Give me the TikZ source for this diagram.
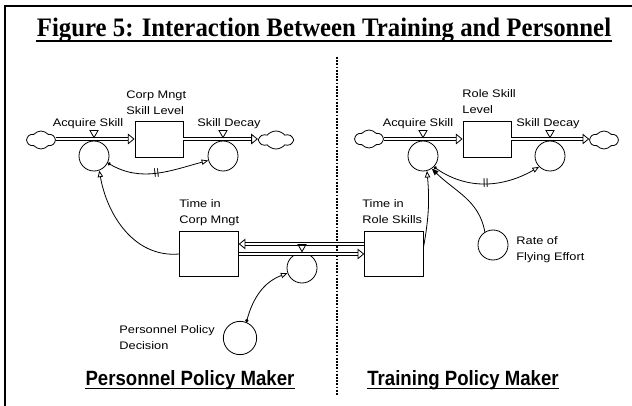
\documentclass[tikz,border=0pt]{standalone}
\usepackage{fontspec}
\setmainfont{Liberation Serif}
\setsansfont{Liberation Sans}
\newfontfamily\sdlab[FakeStretch=1.17]{Liberation Sans}
\newfontfamily\sdtitle[FakeStretch=0.93]{Liberation Serif}
\newfontfamily\sdside[FakeStretch=0.9]{Liberation Sans}
\usetikzlibrary{arrows.meta,shapes.symbols}
\newcommand{\valve}[2][3]{\draw ([shift={(0,-#1)}]#2.north) -- ([shift={(-4,-#1-7)}]#2.north) -- ([shift={(4,-#1-7)}]#2.north) -- cycle;}

\begin{document}
\begin{tikzpicture}[x=0.75pt,y=-0.75pt,line width=0.6pt,
    stock/.style={draw, minimum width=36pt, minimum height=27pt, inner sep=0pt},
    level/.style={draw, minimum width=44pt, minimum height=34pt, inner sep=0pt},
    conv/.style={draw, circle, minimum size=22.5pt, inner sep=0pt},
    sky/.style={draw, cloud, cloud puffs=6, cloud puff arc=100, aspect=1.6, minimum width=21pt, minimum height=13.5pt, inner sep=0pt},
    pipe/.style={double, double distance=2.2pt, -{Triangle[open,length=5pt,width=8pt]}},
    link/.style={-{Triangle[open,length=5pt,width=4pt]}},
    dotlink/.style={{Circle[length=2.5pt]}-{Triangle[open,length=5pt,width=4pt]}},
    txt/.style={font=\sdlab\fontsize{8.2}{12}\selectfont, inner sep=0pt},
    txtl/.style={txt, align=left, anchor=north west},
    delay/.style={pos=0.5, sloped, font=\sdlab\fontsize{7}{7}\selectfont, inner sep=0pt},
    maker/.style={font=\sdside\bfseries\fontsize{15.5}{18}\selectfont, anchor=base, inner sep=0pt}]
        \useasboundingbox (0,0) rectangle (632,406);
        \draw[line width=1.1pt] (5,406) -- (5,6) -- (632,6);

        \node[font=\sdtitle\bfseries\fontsize{20}{24}\selectfont, anchor=base, inner sep=0pt] (title) at (324,37)
            {Figure 5: Interaction Between Training and Personnel};
        \draw[line width=1.5pt] ([yshift=-3.2pt]title.base west) -- ([yshift=-3.2pt]title.base east);

        \draw[densely dotted, line width=1.4pt] (337,57) -- (337,396);

        % corp mngt skill
        \node[sky] (srcA) at (41,140) {};
        \node[conv] (acqA) at (94,156) {};
        \node[stock] (stA) at (159,139) {};
        \node[conv] (decA) at (223,156) {};
        \node[sky, minimum width=25pt] (sinkA) at (276,140) {};
        \draw[pipe] (srcA.east |- stA.west) -- (stA.west);
        \draw[pipe] (stA.east) -- (sinkA.west |- stA.east);
        \valve{acqA} \valve{decA}
        \node[txt, anchor=base] at (88,127) {Acquire Skill};
        \node[txt, anchor=base] at (229,127) {Skill Decay};
        \node[txtl] at (126,90) {Corp Mngt\\Skill Level};
        \draw[dotlink] (acqA.-27) to[out=-30,in=195] node[delay] {||} (decA.197);

        % role skill
        \node[sky] (srcB) at (369,139) {};
        \node[conv] (acqB) at (423,156) {};
        \node[stock] (stB) at (487,139) {};
        \node[conv] (decB) at (550,156) {};
        \node[sky] (sinkB) at (604,140) {};
        \draw[pipe] (srcB.east |- stB.west) -- (stB.west);
        \draw[pipe] (stB.east) -- (sinkB.west |- stB.east);
        \valve{acqB} \valve{decB}
        \node[txt, anchor=base] at (418,127) {Acquire Skill};
        \node[txt, anchor=base] at (548,127) {Skill Decay};
        \node[txtl] at (462,89) {Role Skill\\Level};
        \draw[dotlink] (acqB.-45) to[out=-35,in=210] node[delay] {||} (decB.225);

        % time in
        \node[level] (tCM) at (209,254) {};
        \node[level] (tRS) at (394,254) {};
        \node[conv] (xfer) at (302,268) {};
        \node[txtl] at (179,199) {Time in\\Corp Mngt};
        \node[txtl] at (362,199) {Time in\\Role Skills};
        \draw[pipe] ([yshift=7.5pt]tRS.west) -- ([yshift=7.5pt]tCM.east);
        \draw[pipe] (tCM.east) -- (tRS.west);
        \valve[1]{xfer}
        \draw[link] (tCM.west) to[out=185,in=-80] (acqA.-70);
        \draw[link] (tRS.15) to[out=80,in=-85] (acqB.-75);

        \node[conv, minimum size=25pt] (ppd) at (240,338) {};
        \node[txtl] at (119,325) {Personnel Policy\\Decision};
        \draw[dotlink] (ppd.68) to[out=75,in=200] (xfer.200);

        \node[conv] (rfe) at (493,245) {};
        \node[txtl] at (516,236) {Rate of\\Flying Effort};
        \draw[-{Triangle[length=5pt,width=4pt]}] (rfe.122) to[out=100,in=-45] (acqB.-55);

        \node[maker] (pmk) at (190,385) {Personnel Policy Maker};
        \draw[line width=1pt] ([yshift=-2.5pt]pmk.base west) -- ([yshift=-2.5pt]pmk.base east);
        \node[maker] (tmk) at (463,385) {Training Policy Maker};
        \draw[line width=1pt] ([yshift=-2.5pt]tmk.base west) -- ([yshift=-2.5pt]tmk.base east);
    \end{tikzpicture}
\end{document}
